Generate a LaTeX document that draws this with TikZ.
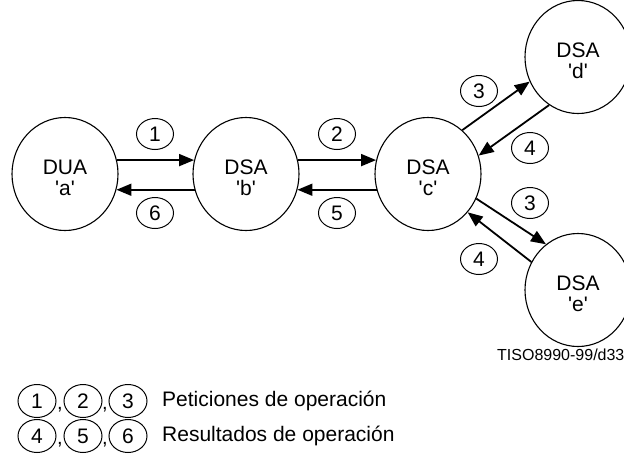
\documentclass[tikz,border=0pt]{standalone}
\usepackage{fontspec}
\setmainfont{Liberation Sans}
\usetikzlibrary{shapes.geometric,arrows.meta}
\newcommand{\q}[1]{\textquotesingle#1\textquotesingle}
\begin{document}
\begin{tikzpicture}[x=1pt,y=-1pt,
  agent/.style={ellipse,draw,line width=1.1pt,minimum width=106pt,minimum height=113pt,inner sep=0pt},
  agtxt/.style={inner sep=0pt,align=center,font=\fontsize{21}{20.5}\selectfont},
  numc/.style={ellipse,draw,line width=1pt,minimum width=37pt,minimum height=31pt,inner sep=0pt,font=\fontsize{21}{21}\selectfont},
  conn/.style={line width=1.8pt,-{Triangle[length=15pt,width=12pt]}},
  legtxt/.style={anchor=west,inner sep=0pt,font=\fontsize{21}{21}\selectfont},
  comma/.style={inner sep=0pt,font=\fontsize{20}{20}\selectfont}]
\useasboundingbox (0,0) rectangle (624,472);
% agents
\node[agent] (a) at (65,174) {};
\node[agent] (b) at (246,174) {};
\node[agent] (c) at (428,174) {};
\node[agent] (d) at (578,57) {};
\node[agent] (e) at (578,290) {};
\node[agtxt] (ta) at ([yshift=-4pt]a.center) {DUA\\\q{a}};
\node[agtxt] (tb) at ([yshift=-4pt]b.center) {DSA\\\q{b}};
\node[agtxt] (tc) at ([yshift=-4pt]c.center) {DSA\\\q{c}};
\node[agtxt] (td) at ([yshift=-4pt]d.center) {DSA\\\q{d}};
\node[agtxt] (te) at ([yshift=-4pt]e.center) {DSA\\\q{e}};
% connectors
\draw[conn] (a.15) -- (b.165);
\draw[conn] (b.197) -- (a.-17);
\draw[conn] (b.15) -- (c.165);
\draw[conn] (c.197) -- (b.-17);
\draw[conn] (c.52) -- (d.207);
\draw[conn] (d.239) -- (c.20);
\draw[conn] (c.-27) -- (e.125);
\draw[conn] (e.149) -- (c.-44);
% labels
\node[numc] (l1) at (155,134) {1};
\node[numc] (l6) at (155,213) {6};
\node[numc] (l2) at (337,134) {2};
\node[numc] (l5) at (337,213) {5};
\node[numc] (l3a) at (479,91) {3};
\node[numc] (l4a) at (530,148) {4};
\node[numc] (l3b) at (530,203) {3};
\node[numc] (l4b) at (479,259) {4};
\node[anchor=west,inner sep=0pt,font=\fontsize{16}{16}\selectfont] (tiso) at (497,355) {TISO8990-99/d33};
% legend
\node[numc,minimum width=38pt,minimum height=33pt] (k1) at (37,401) {1};
\node[numc,minimum width=38pt,minimum height=33pt] (k2) at (83,401) {2};
\node[numc,minimum width=38pt,minimum height=33pt] (k3) at (128,401) {3};
\node[comma] (cm1) at (60,410) {,};
\node[comma] (cm2) at (105,410) {,};
\node[legtxt] (t1) at (162,401) {Peticiones de operación};
\node[numc,minimum width=38pt,minimum height=33pt] (k4) at (37,436) {4};
\node[numc,minimum width=38pt,minimum height=33pt] (k5) at (83,436) {5};
\node[numc,minimum width=38pt,minimum height=33pt] (k6) at (128,436) {6};
\node[comma] (cm3) at (60,445) {,};
\node[comma] (cm4) at (105,445) {,};
\node[legtxt] (t2) at (162,436) {Resultados de operación};
\end{tikzpicture}
\end{document}
